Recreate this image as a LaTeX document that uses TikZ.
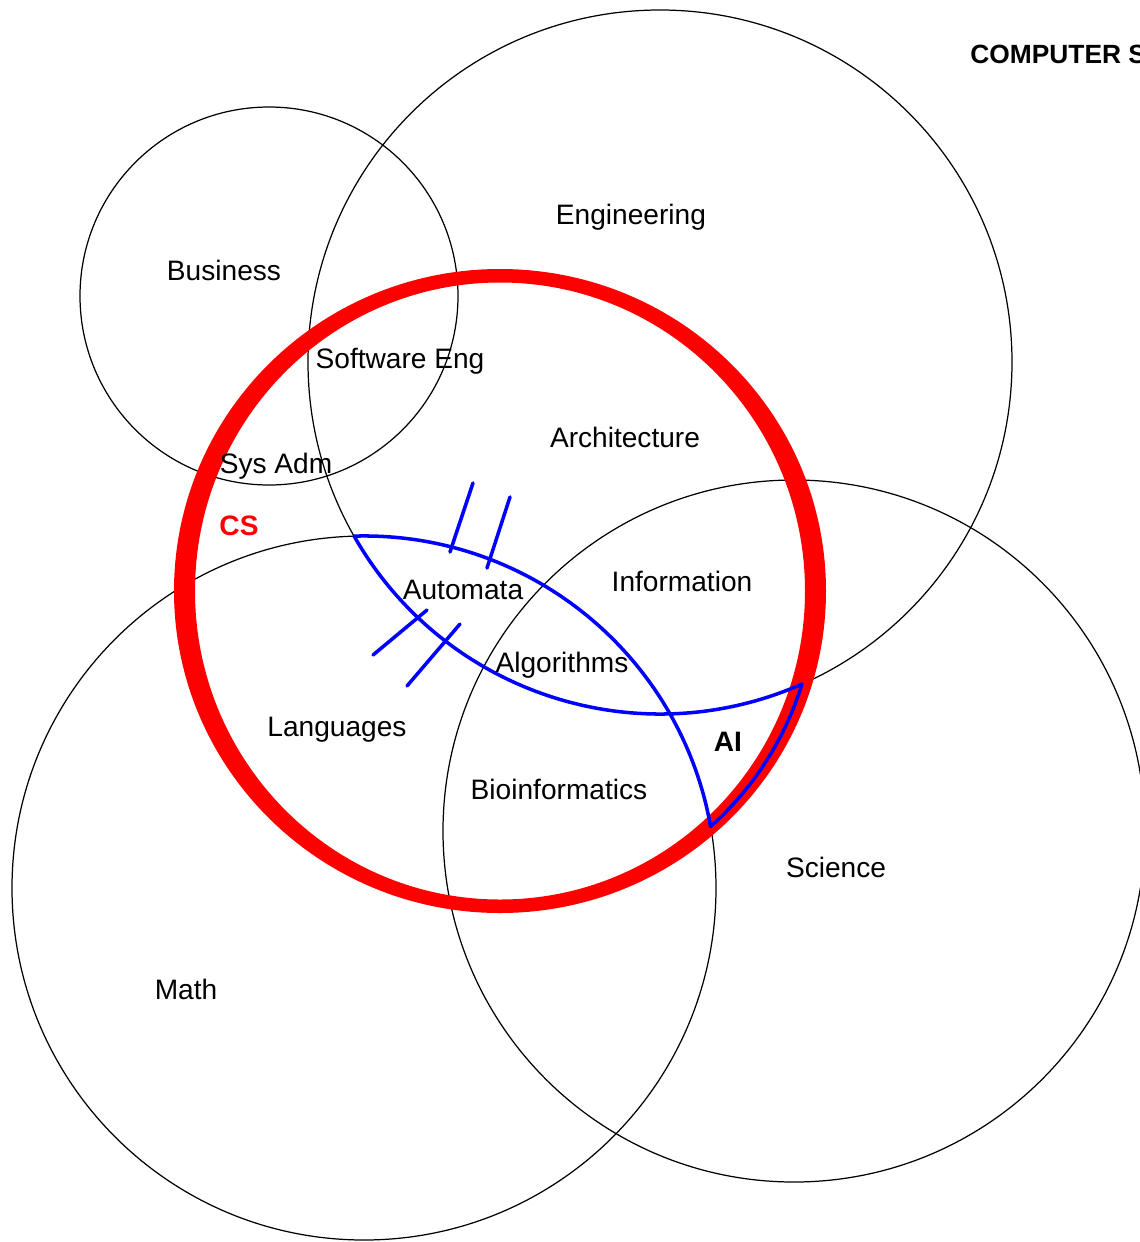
\documentclass[tikz,border=0pt]{standalone}
\usepackage{fontspec}
\setmainfont{Liberation Sans}
\usepackage{tikz}
\usetikzlibrary{positioning}
\definecolor{csred}{RGB}{255, 0, 0}
\definecolor{lensblue}{RGB}{0, 0, 255}

\begin{document}
\begin{tikzpicture}[
    x=0.02cm, y=-0.02cm,
    every node/.style={font=\fontsize{16}{19}\selectfont, inner sep=0pt, text height=11.5pt, text depth=0pt},
    field/.style={draw, line width=0.7pt},
    area/.style={text=black},
    hot/.style={font=\fontsize{16}{19}\selectfont\bfseries},
    hash/.style={draw=lensblue, line width=2pt, line cap=round},
    lens/.style={draw=lensblue, line width=2pt, line join=round}
]
\fill[white] (0,0) rectangle (1140,1242);
\useasboundingbox (0,0) rectangle (1140,1242);
\coordinate (bus) at (269,296);
\coordinate (eng) at (660,362);
\coordinate (math) at (364,888);
\coordinate (sci) at (794,831);
\coordinate (cs) at (500,591);
\coordinate (tip) at (354.1,536.1);
\draw[field] (bus) circle[radius=189];
\draw[field] (eng) circle[radius=352];
\draw[field] (math) circle[radius=352];
\draw[field] (sci) circle[radius=351];
\fill[csred, even odd rule] (cs) ellipse[x radius=326, y radius=322] (cs) ellipse[x radius=305, y radius=308.5];
\draw[lens] (tip) arc[start angle=-91.61, end angle=-10.05, radius=352]
    arc[start angle=48.2, end angle=17.14, radius=316]
    arc[start angle=66.22, end angle=150.35, radius=352] -- cycle;
\draw[hash] (473,483) -- (450,552);
\draw[hash] (510,497) -- (487,568);
\draw[hash] (373,655) -- (427,610);
\draw[hash] (407,686) -- (460,624);
\node[hot, anchor=west, font=\fontsize{15}{18}\selectfont\bfseries] (title) at (970,53) {COMPUTER S};
\node[area] (engt) at (631,214) {Engineering};
\node[area] (bust) at (224,270) {Business};
\node[area] (swe) at (400,358) {Software Eng};
\node[area] (arch) at (625,437) {Architecture};
\node[area] (sysadm) at (276,463) {Sys Adm};
\node[hot, text=csred] (cst) at (239,525) {CS};
\node[area] (info) at (682,581) {Information};
\node[area] (auto) at (463,589) {Automata};
\node[area] (algo) at (562,662) {Algorithms};
\node[hot] (ai) at (728,741) {AI};
\node[area] (lang) at (337,726) {Languages};
\node[area] (bio) at (559,789) {Bioinformatics};
\node[area] (scit) at (836,867) {Science};
\node[area] (matht) at (186,989) {Math};
\end{tikzpicture}
\end{document}
